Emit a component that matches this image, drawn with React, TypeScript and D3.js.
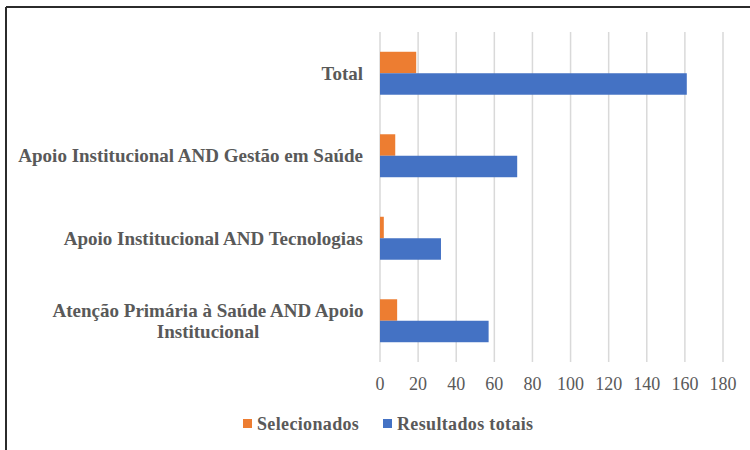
import React from "react";
import * as d3 from "d3";

// Categories from top to bottom; multi-line labels are split on "\n"
const categories = [
  "Total",
  "Apoio Institucional AND Gestão em Saúde",
  "Apoio Institucional AND Tecnologias",
  "Atenção Primária à Saúde AND Apoio\nInstitucional",
];
const seriesNames = ["Selecionados", "Resultados totais"];
const selecionados = [19, 8, 2, 9];
const resultadosTotais = [161, 72, 32, 57];
const xTicks = [0, 20, 40, 60, 80, 100, 120, 140, 160, 180];
const colors = ["#ED7D31", "#4472C4"];

const W = 750;
const H = 450;
const serif = "'Liberation Serif', 'Times New Roman', serif";
const textColor = "#595959";

export default function App() {
  const values = [selecionados, resultadosTotais];

  const x = d3.scaleLinear().domain([0, 180]).range([380, 723]);
  const y = d3.scaleBand<string>().domain(categories).range([32, 362]).padding(0);
  const ySub = d3
    .scaleBand<string>()
    .domain(seriesNames)
    .range([0, y.bandwidth()])
    .paddingInner(0)
    .paddingOuter(0.92);

  const [top, bottom] = y.range();

  return (
    <div style={{ position: "absolute", left: 0, top: 0 }}>
      <svg width={W} height={H} style={{ display: "block", background: "#fff" }}>
        {/* frame */}
        <line x1={6} y1={7} x2={W} y2={7} stroke="#2b2b2b" strokeWidth={2} />
        <line x1={6} y1={7} x2={6} y2={H} stroke="#2b2b2b" strokeWidth={2} />

        {/* vertical gridlines */}
        {xTicks.map((t) => (
          <line
            key={`g${t}`}
            x1={x(t)}
            x2={x(t)}
            y1={top}
            y2={bottom}
            stroke="#d9d9d9"
            strokeWidth={1.5}
          />
        ))}

        {/* bars */}
        {seriesNames.map((s, si) =>
          categories.map((c, ci) => (
            <rect
              key={`${s}-${c}`}
              x={x(0)}
              y={(y(c) as number) + (ySub(s) as number)}
              width={x(values[si][ci]) - x(0)}
              height={ySub.bandwidth()}
              fill={colors[si]}
            />
          ))
        )}

        {/* tick labels */}
        {xTicks.map((t) => (
          <text
            key={`t${t}`}
            x={x(t)}
            y={390}
            textAnchor="middle"
            fontFamily={serif}
            fontSize={18}
            fill={textColor}
          >
            {t}
          </text>
        ))}

        {/* category labels */}
        {categories.map((c) => {
          const lines = c.split("\n");
          const cy = (y(c) as number) + y.bandwidth() / 2;
          const lh = 21;
          const first = cy + 6.5 - ((lines.length - 1) * lh) / 2;
          const blockRight = 363;
          return (
            <g key={c}>
              {lines.map((ln, li) => (
                <text
                  key={li}
                  x={lines.length > 1 ? blockRight - 155 : blockRight}
                  y={first + li * lh}
                  textAnchor={lines.length > 1 ? "middle" : "end"}
                  fontFamily={serif}
                  fontWeight="bold"
                  fontSize={19}
                  fill={textColor}
                >
                  {ln}
                </text>
              ))}
            </g>
          );
        })}

        {/* legend */}
        {seriesNames.map((s, i) => {
          const lx = [243, 383][i];
          return (
            <g key={s}>
              <rect x={lx} y={419} width={9} height={9} fill={colors[i]} />
              <text
                x={lx + 14}
                y={430}
                fontFamily={serif}
                fontWeight="bold"
                fontSize={18}
                letterSpacing={0.35}
                fill={textColor}
              >
                {s}
              </text>
            </g>
          );
        })}
      </svg>
    </div>
  );
}
